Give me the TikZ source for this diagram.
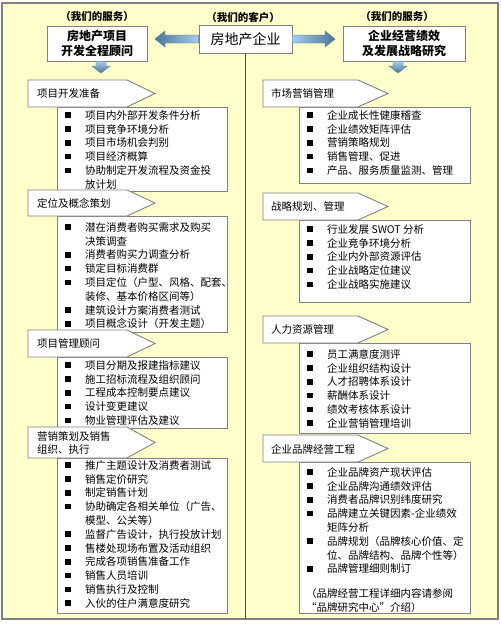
\documentclass[tikz,border=0pt]{standalone}
\usepackage{fontspec}
\setmainfont{Noto Sans CJK SC}
\usepackage{tikz}
\usetikzlibrary{calc}

\definecolor{paper}{HTML}{FFFFCC}
\definecolor{edge}{HTML}{808080}
\definecolor{arrdark}{HTML}{4B7597}
\definecolor{arrlight}{HTML}{A8CBEA}
\newcommand{\bul}{\rule{0pt}{10pt}\makebox[20pt][l]{\rule[1.3pt]{5.5pt}{5.5pt}}}
\newcommand{\cont}{\hspace*{20pt}}

\begin{document}
\begin{tikzpicture}[x=1pt,y=-1pt,
  frame/.style={draw=edge, line width=1.2pt, fill=paper},
  box/.style={draw=edge, line width=0.9pt, fill=white},
  tagline/.style={draw=edge, line width=0.9pt, fill=white},
  tagtext/.style={anchor=west, inner sep=0pt, align=left, font=\fontsize{10.5}{13.8}\selectfont},
  list/.style={anchor=north west, inner sep=0pt, align=left, font=\fontsize{10.5}{13.8}\selectfont},
  head/.style={inner sep=0pt, font=\fontsize{10.5}{12}\selectfont\bfseries},
  topbox/.style={box, align=center, inner sep=0pt, font=\fontsize{12}{15}\selectfont\bfseries},
  link/.style={draw=edge!60!black, line width=0.9pt},
  barrow/.style={draw=arrdark, line width=0.4pt}]
\useasboundingbox (0,0) rectangle (501,625);
\draw[frame] (2,3) rectangle (498,619);

% top row
\node[head] (hL) at (97,17) {（我们的服务）};
\node[head] (hC) at (243,17) {（我们的客户）};
\node[head] (hR) at (397,17) {（我们的服务）};
\node[topbox, minimum width=100pt, minimum height=35pt] (svcL) at (97,43.5) {房地产项目\\开发全程顾问};
\node[box, minimum width=93pt, minimum height=28pt, inner sep=0pt, font=\fontsize{14}{16}\selectfont] (client) at (245.5,39) {房地产企业};
\node[topbox, minimum width=122pt, minimum height=35pt] (svcR) at (404,43.5) {企业经营绩效\\及发展战略研究};

\coordinate (aL) at (155,39);
\coordinate (aR) at (335,39);
\coordinate (dL) at (101,73);
\coordinate (dR) at (398,73);
\coordinate (vEnd) at (245.5,619);

\shadedraw[barrow, left color=arrdark, right color=arrlight]
  (aL) -- ++(10,-8) -- ++(0,4) -- ($(client.west)+(0,-4)$) -- ($(client.west)+(0,4)$)
  -- ($(aL)+(10,4)$) -- ++(0,4) -- cycle;
\shadedraw[barrow, left color=arrlight, right color=arrdark]
  (aR) -- ++(-10,-8) -- ++(0,4) -- ($(client.east)+(0,-4)$) -- ($(client.east)+(0,4)$)
  -- ($(aR)+(-10,4)$) -- ++(0,4) -- cycle;
\shadedraw[barrow, top color=arrlight, bottom color=arrdark]
  (dL) -- ++(-9,-7) -- ++(4,0) -- ($(dL |- svcL.south)+(-5,0)$) -- ($(dL |- svcL.south)+(5,0)$)
  -- ($(dL)+(5,-7)$) -- ++(4,0) -- cycle;
\shadedraw[barrow, top color=arrlight, bottom color=arrdark]
  (dR) -- ++(-9,-7) -- ++(4,0) -- ($(dR |- svcR.south)+(-5,0)$) -- ($(dR |- svcR.south)+(5,0)$)
  -- ($(dR)+(5,-7)$) -- ++(4,0) -- cycle;
\draw[link] (client.south) -- (vEnd);

% left column
\draw[box] (57,107) rectangle (227,191);
\draw[tagline] (28,80) -- ++(99,0) -- ++(28,13.5) -- ++(-28,13.5) -- ++(-99,0) -- cycle;
\node[tagtext] (tL1) at (37,93.5) {项目开发准备};
\node[list] (lL1) at (65,109) {\bul 项目内外部开发条件分析\\ \bul 项目竞争环境分析\\ \bul 项目市场机会判别\\
  \bul 项目经济概算\\ \bul 协助制定开发流程及资金投\\ \cont 放计划};

\draw[box] (57,216) rectangle (227,332);
\draw[tagline] (28,190) -- ++(99,0) -- ++(28,13) -- ++(-28,13) -- ++(-99,0) -- cycle;
\node[tagtext] (tL2) at (37,203) {定位及概念策划};
\node[list] (lL2) at (65,221) {\bul 潜在消费者购买需求及购买\\ \cont 决策调查\\ \bul 消费者购买力调查分析\\
  \bul 锁定目标消费群\\ \bul 项目定位（户型、风格、配套、\\ \cont 装修、基本价格区间等）\\
  \bul 建筑设计方案消费者测试\\ \bul 项目概念设计（开发主题）};

\draw[box] (57,357) rectangle (227,428);
\draw[tagline] (28,330) -- ++(99,0) -- ++(28,13.5) -- ++(-28,13.5) -- ++(-99,0) -- cycle;
\node[tagtext] (tL3) at (37,343.5) {项目管理顾问};
\node[list] (lL3) at (65,359) {\bul 项目分期及报建指标建议\\ \bul 施工招标流程及组织顾问\\ \bul 工程成本控制要点建议\\
  \bul 设计变更建议\\ \bul 物业管理评估及建议};

\draw[box] (57,458) rectangle (227,613);
\draw[tagline] (28,427) -- ++(99,0) -- ++(28,15.5) -- ++(-28,15.5) -- ++(-99,0) -- cycle;
\node[tagtext] (tL4) at (37,443) {营销策划及销售\\组织、执行};
\node[list] (lL4) at (65,459) {\bul 推广主题设计及消费者测试\\ \bul 销售定价研究\\ \bul 制定销售计划\\
  \bul 协助确定各相关单位（广告、\\ \cont 模型、公关等）\\ \bul 监督广告设计，执行投放计划\\
  \bul 售楼处现场布置及活动组织\\ \bul 完成各项销售准备工作\\ \bul 销售人员培训\\
  \bul 销售执行及控制\\ \bul 入伙的住户满意度研究};

% right column
\draw[box] (299,107) rectangle (470,183);
\draw[tagline] (263,80) -- ++(95,0) -- ++(30,13.5) -- ++(-30,13.5) -- ++(-95,0) -- cycle;
\node[tagtext] (tR1) at (271,93.5) {市场营销管理};
\node[list] (lR1) at (307,109) {\bul 企业成长性健康稽查\\ \bul 企业绩效矩阵评估\\ \bul 营销策略规划\\
  \bul 销售管理、促进\\ \bul 产品、服务质量监测、管理};

\draw[box] (299,220) rectangle (470,302);
\draw[tagline] (263,193) -- ++(95,0) -- ++(30,13.5) -- ++(-30,13.5) -- ++(-95,0) -- cycle;
\node[tagtext] (tR2) at (271,206.5) {战略规划、管理};
\node[list] (lR2) at (307,223) {\bul 行业发展 SWOT 分析\\ \bul 企业竞争环境分析\\ \bul 企业内外部资源评估\\
  \bul 企业战略定位建议\\ \bul 企业战略实施建议};

\draw[box] (299,343) rectangle (470,433);
\draw[tagline] (263,316) -- ++(95,0) -- ++(30,13.5) -- ++(-30,13.5) -- ++(-95,0) -- cycle;
\node[tagtext] (tR3) at (271,330) {人力资源管理};
\node[list] (lR3) at (307,348) {\bul 员工满意度测评\\ \bul 企业组织结构设计\\ \bul 人才招聘体系设计\\
  \bul 薪酬体系设计\\ \bul 绩效考核体系设计\\ \bul 企业营销管理培训};

\draw[box] (299,462) rectangle (470,613);
\draw[tagline] (263,435) -- ++(95,0) -- ++(30,13.5) -- ++(-30,13.5) -- ++(-95,0) -- cycle;
\node[tagtext] (tR4) at (271,449) {企业品牌经营工程};
\node[list] (lR4) at (307,466) {\bul 企业品牌资产现状评估\\ \bul 企业品牌沟通绩效评估\\ \bul 消费者品牌识别纬度研究\\
  \bul 品牌建立关键因素-企业绩效\\ \cont 矩阵分析\\ \bul 品牌规划（品牌核心价值、定\\
  \cont 位、品牌结构、品牌个性等）\\ \bul 品牌管理细则制订};
\node[list] (note) at (306,587) {\rule{0pt}{10pt}（品牌经营工程详细内容请参阅\\“品牌研究中心”介绍）};
\end{tikzpicture}
\end{document}
